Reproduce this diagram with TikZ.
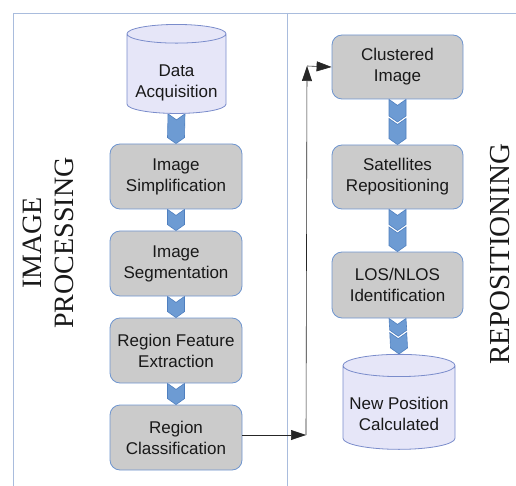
\documentclass[tikz,border=0pt]{standalone}
\usepackage{fontspec}
\setmainfont{Liberation Serif}
\newfontfamily\boxfont{Liberation Sans}
\usepackage{tikz}
\usetikzlibrary{shapes.geometric, arrows.meta, calc, backgrounds}
\usepackage{xcolor}

\definecolor{frameblue}{HTML}{A9BCDD}
\definecolor{boxline}{HTML}{6F95CF}
\definecolor{boxgray}{HTML}{CBCBCB}
\definecolor{cylfill}{HTML}{E6E6F8}
\definecolor{cylline}{HTML}{7A8CCB}
\definecolor{chevfill}{HTML}{6D9BD3}
\definecolor{chevline}{HTML}{4F7FBF}

% blue block connector, #1 = top corners, #2 = bottom tip
\newcommand{\chevron}[2]{%
    \filldraw[chevstyle] ($(#1)+(-8.5,0)$) -- ($(#1)+(0,6)$) -- ($(#1)+(8.5,0)$)
        -- ($(#2)+(8.5,-6)$) -- (#2) -- ($(#2)+(-8.5,-6)$) -- cycle;
}
% text of a data store, set a little below the middle of the cylinder
\newcommand{\storelines}[2][7pt]{%
    \raisebox{-#1}[\height][\depth]{\begin{tabular}{@{}c@{}}#2\end{tabular}}%
}

\begin{document}
\begin{tikzpicture}[x=1pt, y=-1pt,
    frame/.style={draw=frameblue, line width=0.8pt},
    stepbox/.style={draw=boxline, fill=boxgray, line width=0.8pt, rounded corners=10pt,
        minimum width=132pt, minimum height=65pt, align=center, text=black!90,
        font=\boxfont\fontsize{17}{21}\selectfont},
    datastore/.style={cylinder, shape border rotate=90, aspect=0.21, draw=cylline,
        fill=cylfill, line width=0.8pt, text=black!90,
        font=\boxfont\fontsize{17}{21}\selectfont},
    chevstyle/.style={fill=chevfill, draw=chevline, line width=0.6pt},
    link/.style={draw=black!85, line width=0.6pt, -{Triangle[length=15pt, width=10pt]}},
    sidelabel/.style={rotate=90, inner sep=0pt, text=black!90,
        font=\fontsize{28}{32}\selectfont}]

    \useasboundingbox (0,0) rectangle (516,486);

    % Frame
    \draw[frame] (13,486) -- (13,13) -- (516,13);
    \draw[frame] (287,13) -- (287,486);

    % Side labels
    \node[sidelabel, align=center] (imgproc) at (48,243) {IMAGE\\PROCESSING};
    \node[sidelabel, font=\fontsize{29}{32}\selectfont] (repos) at (500,254) {REPOSITIONING};

    % Image processing steps
    \node[datastore, minimum width=99pt, minimum height=89pt] (acq) at (176.5,75.5) {\storelines{Data\\Acquisition}};
    \node[stepbox] (simp) at (176,176.5) {Image\\Simplification};
    \node[stepbox] (segm) at (176,263.5) {Image\\Segmentation};
    \node[stepbox] (feat) at (176,350.5) {Region Feature\\Extraction};
    \node[stepbox] (clas) at (176,437.5) {Region\\Classification};

    % Repositioning steps
    \node[stepbox, minimum width=131pt, minimum height=64pt] (clus) at (397.5,67) {Clustered\\Image};
    \node[stepbox, minimum width=131pt, minimum height=64pt] (sats) at (397.5,177) {Satellites\\Repositioning};
    \node[stepbox, minimum width=131pt, minimum height=66pt] (los) at (397.5,285) {LOS/NLOS\\Identification};
    \node[datastore, minimum width=112pt, minimum height=95pt] (newpos) at (399,409.5) {\storelines[6pt]{New Position\\Calculated}};

    % Block connectors
    \begin{scope}[on background layer]
        \chevron{acq.south}{simp.north}
        \chevron{simp.south}{segm.north}
        \chevron{segm.south}{feat.north}
        \chevron{feat.south}{clas.north}

        \coordinate (m1) at ($(clus.south)!0.5!(sats.north)$);
        \chevron{clus.south}{m1}
        \chevron{$(m1)+(0,-3.5)$}{sats.north}
        \coordinate (m2) at ($(sats.south)!0.5!(los.north)$);
        \chevron{sats.south}{m2}
        \chevron{$(m2)+(0,-3.5)$}{los.north}
        \coordinate (m3) at ($(los.south)!0.5!(newpos.north)$);
        \chevron{los.south}{m3}
        \chevron{$(m3)+(0,-3.5)$}{newpos.north}
    \end{scope}

    % Hand-over between the two stages
    \coordinate (turn1) at (306,435);
    \coordinate (turn2) at (307,66);
    \draw[link] (clas.east |- turn1) -- (turn1);
    \draw[link] (turn1) -- (turn2);
    \draw[link] (turn2) -- (clus.west);

\end{tikzpicture}
\end{document}
